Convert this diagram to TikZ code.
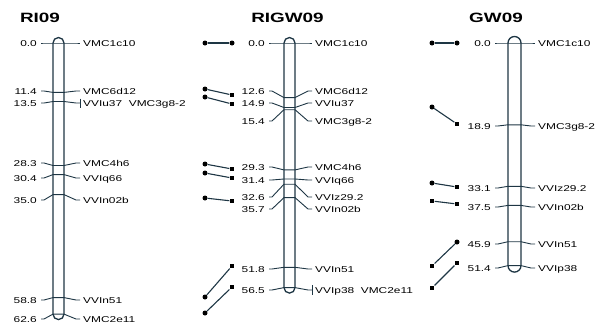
\documentclass[tikz,border=0pt]{standalone}
\usepackage{fontspec}
\setmainfont{Liberation Sans}[FakeStretch=1.4]
\definecolor{lc}{HTML}{1E3644}
\tikzset{
  lbl/.style={font=\fontsize{8.5}{9}\selectfont, inner sep=0pt, text height=6.1pt, text depth=0pt},
  lleft/.style={lbl, anchor=east},
  lright/.style={lbl, anchor=west},
  ttl/.style={font=\fontsize{13.5}{15}\selectfont\bfseries, inner sep=0pt},
  barline/.style={draw=lc, line width=1.3pt},
  tickline/.style={draw=lc, line width=0.9pt},
  joinline/.style={draw=lc, line width=1.1pt},
  dotend/.style={circle, fill=black, inner sep=0pt, minimum size=5pt},
  sqend/.style={rectangle, fill=black, inner sep=0pt, minimum size=4.8pt},
}
% #1 map prefix, #2 index, #3 actual y, #4 label y, #5 left text, #6 right text
\newcommand\mkr[6]{%
  \node[lleft] (#1l#2) at (\labL,#4) {#5};
  \node[lright] (#1r#2) at (\labR,#4) {#6};
  \draw[tickline] ([xshift=4pt]#1l#2.east) -- ++(3,0) -- (\bl,#3) -- (\br,#3)
     -- ([xshift=-7pt]#1r#2.west) -- ([xshift=-3pt]#1r#2.west);
}
\begin{document}
\begin{tikzpicture}[x=1pt,y=-1pt]
\useasboundingbox (0,0) rectangle (598,327);
% ---------------- RI09 ----------------
\node[ttl] (t1) at (40,18) {RI09};
\def\labL{37}\def\labR{83}\def\bl{53}\def\br{64}
\draw[barline, rounded corners=5.5pt] (\bl,37.5) rectangle (\br,319.6);
\mkr{a}{1}{43}{43}{0.0}{VMC1c10}
\mkr{a}{2}{92.4}{91}{11.4}{VMC6d12}
\mkr{a}{3}{101.5}{103}{13.5}{VVIu37\ \ VMC3g8-2}
\mkr{a}{4}{165.5}{163}{28.3}{VMC4h6}
\mkr{a}{5}{174.6}{178}{30.4}{VVIq66}
\mkr{a}{6}{194.6}{200}{35.0}{VVIn02b}
\mkr{a}{7}{297.6}{300}{58.8}{VVIn51}
\mkr{a}{8}{314.1}{319}{62.6}{VMC2e11}
\draw[tickline] ([xshift=-3pt]ar3.west) ++(0,-4.5) -- ++(0,9);
% ---------------- RIGW09 ----------------
\node[ttl] (t2) at (287.5,18) {RIGW09};
\def\labL{265}\def\labR{315}\def\bl{284}\def\br{295}
\draw[barline, rounded corners=5.5pt] (\bl,37.5) rectangle (\br,293.1);
\mkr{b}{1}{43}{43}{0.0}{VMC1c10}
\mkr{b}{2}{97.6}{91}{12.6}{VMC6d12}
\mkr{b}{3}{107.5}{103}{14.9}{VVIu37}
\mkr{b}{4}{109.7}{121}{15.4}{VMC3g8-2}
\mkr{b}{5}{169.9}{167}{29.3}{VMC4h6}
\mkr{b}{6}{179.0}{180}{31.4}{VVIq66}
\mkr{b}{7}{184.2}{197}{32.6}{VVIz29.2}
\mkr{b}{8}{197.6}{209}{35.7}{VVIn02b}
\mkr{b}{9}{267.3}{269}{51.8}{VVIn51}
\mkr{b}{10}{287.6}{290}{56.5}{VVIp38\ \ VMC2e11}
\draw[tickline] ([xshift=-3pt]br10.west) ++(0,-5) -- ++(0,10);
% joins RIGW09
\node[dotend] (bj1a) at (205,43) {};  \node[dotend] (bj1b) at (232,43) {};
\node[dotend] (bj2a) at (205,89) {};  \node[sqend] (bj2b) at (232,95) {};
\node[dotend] (bj3a) at (205,97) {};  \node[sqend] (bj3b) at (232,104) {};
\node[dotend] (bj4a) at (205,164) {}; \node[sqend] (bj4b) at (232,169) {};
\node[dotend] (bj5a) at (205,173) {}; \node[sqend] (bj5b) at (232,178) {};
\node[dotend] (bj6a) at (205,198) {}; \node[sqend] (bj6b) at (232,201) {};
\node[dotend] (bj7a) at (205,297) {}; \node[sqend] (bj7b) at (232,266) {};
\node[dotend] (bj8a) at (205,313) {}; \node[sqend] (bj8b) at (232,287) {};
\foreach \i in {1,...,8} {\draw[joinline] (bj\i a) -- (bj\i b);}
% ---------------- GW09 ----------------
\node[ttl] (t3) at (496,18) {GW09};
\def\labL{491}\def\labR{538}\def\bl{508}\def\br{521}
\draw[barline, rounded corners=6.5pt] (\bl,36.5) rectangle (\br,272.1);
\mkr{c}{1}{43}{43}{0.0}{VMC1c10}
\mkr{c}{2}{124.8}{126}{18.9}{VMC3g8-2}
\mkr{c}{3}{186.3}{188}{33.1}{VVIz29.2}
\mkr{c}{4}{205.4}{207}{37.5}{VVIn02b}
\mkr{c}{5}{241.7}{244}{45.9}{VVIn51}
\mkr{c}{6}{265.6}{268}{51.4}{VVIp38}
% joins GW09
\node[dotend] (cj1a) at (432,43) {};  \node[dotend] (cj1b) at (457,43) {};
\node[dotend] (cj2a) at (432,107) {}; \node[sqend] (cj2b) at (457,124) {};
\node[dotend] (cj3a) at (432,183) {}; \node[sqend] (cj3b) at (457,187) {};
\node[sqend] (cj4a) at (432,201) {};  \node[sqend] (cj4b) at (457,204) {};
\node[sqend] (cj5a) at (432,266) {};  \node[dotend] (cj5b) at (457,242) {};
\node[sqend] (cj6a) at (432,288) {};  \node[sqend] (cj6b) at (457,263) {};
\foreach \i in {1,...,6} {\draw[joinline] (cj\i a) -- (cj\i b);}
\end{tikzpicture}
\end{document}
